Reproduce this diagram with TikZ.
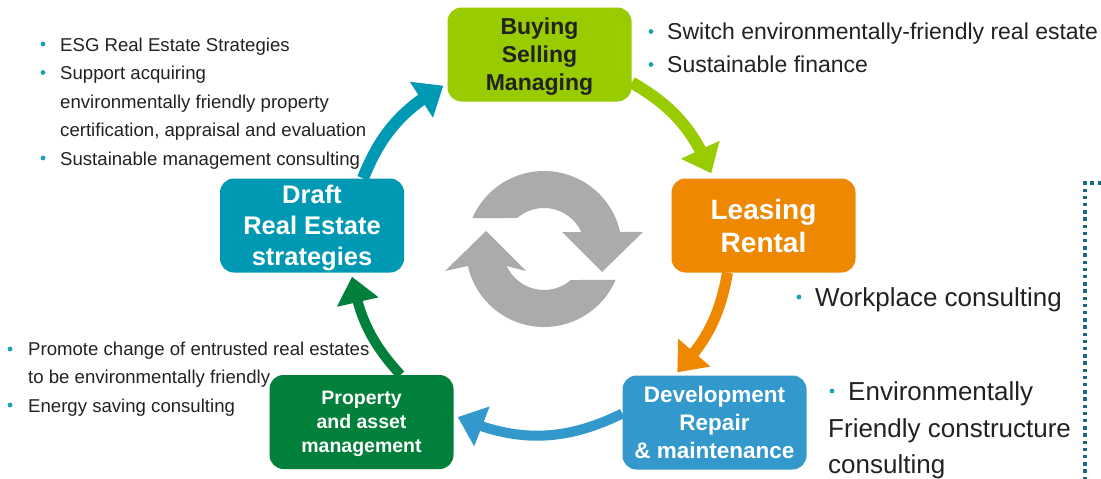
\documentclass[tikz,border=0pt]{standalone}
\usepackage{fontspec}
\setmainfont{Liberation Sans}
\usetikzlibrary{arrows.meta,bending,calc}

\definecolor{limeC}{HTML}{99CC00}
\definecolor{orangeC}{HTML}{EE8800}
\definecolor{tealC}{HTML}{0099B4}
\definecolor{blueC}{HTML}{3399CC}
\definecolor{greenC}{HTML}{00803A}
\definecolor{iconC}{HTML}{ABABAB}
\definecolor{dotC}{HTML}{1B6B80}
\definecolor{bulC}{HTML}{1AA0B8}
\definecolor{txtC}{HTML}{222222}

\begin{document}
\begin{tikzpicture}[x=1pt,y=-1pt,
  box/.style={rounded corners=14pt, minimum width=184pt, minimum height=94pt,
    inner sep=0pt, align=center, text=white, text depth=0pt},
  cyc/.style={line width=#1, -{Triangle[width=41pt,length=26pt]}},
  bulletdot/.style={circle, fill=bulC, inner sep=0pt, minimum size=4.8pt},
  note/.style={anchor=base west, text=txtC, inner sep=0pt,
    font=\fontsize{18.6}{22}\selectfont},
  notemid/.style={note, font=\fontsize{23}{27}\selectfont},
  notebig/.style={note, font=\fontsize{26}{30}\selectfont},
]
\useasboundingbox (0,0) rectangle (1101,479);

% central refresh icon: two thick arcs with arrowheads, point-symmetric
\coordinate (ring) at (544,249);
\fill[iconC] ($(ring)+(203.3:78)$) arc[start angle=203.3, end angle=347.4, radius=78]
  -- (643,232) -- (602,272) -- (562,232)
  -- ($(ring)+(335.5:41)$) arc[start angle=335.5, end angle=229.2, radius=41] -- cycle;
\begin{scope}[rotate around={180:(544,251.5)}]
\fill[iconC] ($(ring)+(203.3:78)$) arc[start angle=203.3, end angle=347.4, radius=78]
  -- (643,232) -- (602,272) -- (562,232)
  -- ($(ring)+(335.5:41)$) arc[start angle=335.5, end angle=229.2, radius=41] -- cycle;
\end{scope}

% side notes
\node[bulletdot] (b1) at (43,44) {};
\node[note] (t1) at (60,51) {ESG Real Estate Strategies};
\node[bulletdot] (b2) at (43,72.5) {};
\node[note] (t2) at (60,79.5) {Support acquiring};
\node[note] (t3) at (60,108) {environmentally friendly property};
\node[note] (t4) at (60,136.5) {certification, appraisal and evaluation};
\node[bulletdot] (b5) at (43,158) {};
\node[note] (t5) at (60,165) {Sustainable management consulting};

\node[bulletdot] (r1b) at (651,31.5) {};
\node[notemid] (r1) at (667,39) {Switch environmentally-friendly real estate};
\node[bulletdot] (r2b) at (651,64.5) {};
\node[notemid] (r2) at (667,72) {Sustainable finance};

\node[bulletdot] (wb) at (799,297) {};
\node[notebig] (w1) at (815,306) {Workplace consulting};

\node[bulletdot] (eb) at (832,391) {};
\node[notebig] (e1) at (848,400) {Environmentally};
\node[notebig] (e2) at (828,437) {Friendly constructure};
\node[notebig] (e3) at (828,473) {consulting};

\node[bulletdot] (pb1) at (10,349) {};
\node[note] (p1) at (28,355.5) {Promote change of entrusted real estates};
\node[note] (p2) at (28,383.5) {to be environmentally friendly};
\node[bulletdot] (pb3) at (10,405) {};
\node[note] (p3) at (28,412) {Energy saving consulting};

% dotted bracket on the right
\coordinate (dA) at (1101,183);
\coordinate (dB) at (1085,183);
\coordinate (dC) at (1085,479);
\draw[dotC, line width=3.4pt, dash pattern=on 3.4pt off 3.8pt] (dA) -- (dB) -- (dC);

% stage boxes
\node[box, fill=limeC, text=txtC, font=\bfseries\fontsize{23}{28}\selectfont]
  (buying) at (539.5,54.5) {Buying\\Selling\\Managing};
\node[box, fill=orangeC, font=\bfseries\fontsize{28}{33}\selectfont]
  (leasing) at (763.5,225.5) {Leasing\\Rental};
\node[box, fill=blueC, font=\bfseries\fontsize{22.5}{28}\selectfont]
  (dev) at (714.5,422.5) {Development\\Repair\\\& maintenance};
\node[box, fill=greenC, font=\bfseries\fontsize{19.5}{24}\selectfont]
  (prop) at (361.5,422) {Property\\and asset\\management};
\node[box, fill=tealC, font=\bfseries\fontsize{25.5}{31}\selectfont]
  (draft) at (312,225.5) {Draft\\Real Estate\\strategies};

% cycle arrows between the stages
\coordinate (tealEnd) at ($(buying.south west)+(-4,-16)$);
\coordinate (limeEnd) at ($(leasing.north west)+(40,-5)$);
\coordinate (orangeEnd) at ($(dev.north west)+(55,-3)$);
\coordinate (blueEnd) at ($(prop.east)+(4,-5)$);
\coordinate (greenEnd) at ($(draft.south)+(40,4)$);

\draw[cyc=12pt, tealC] ($(draft.north)+(51,0)$) to[bend left=19] (tealEnd);
\draw[cyc=12pt, limeC] ($(buying.east)+(0,28)$) to[bend left=18.7] (limeEnd);
\draw[cyc=11pt, orangeC] ($(leasing.south)+(-36,0)$) to[bend left=16.5] (orangeEnd);
\draw[cyc=10pt, blueC] ($(dev.west)+(0,-9)$) to[bend left=25] (blueEnd);
\draw[cyc=10pt, greenC] ($(prop.north)+(39,0)$) to[bend left=16] (greenEnd);
\end{tikzpicture}
\end{document}
